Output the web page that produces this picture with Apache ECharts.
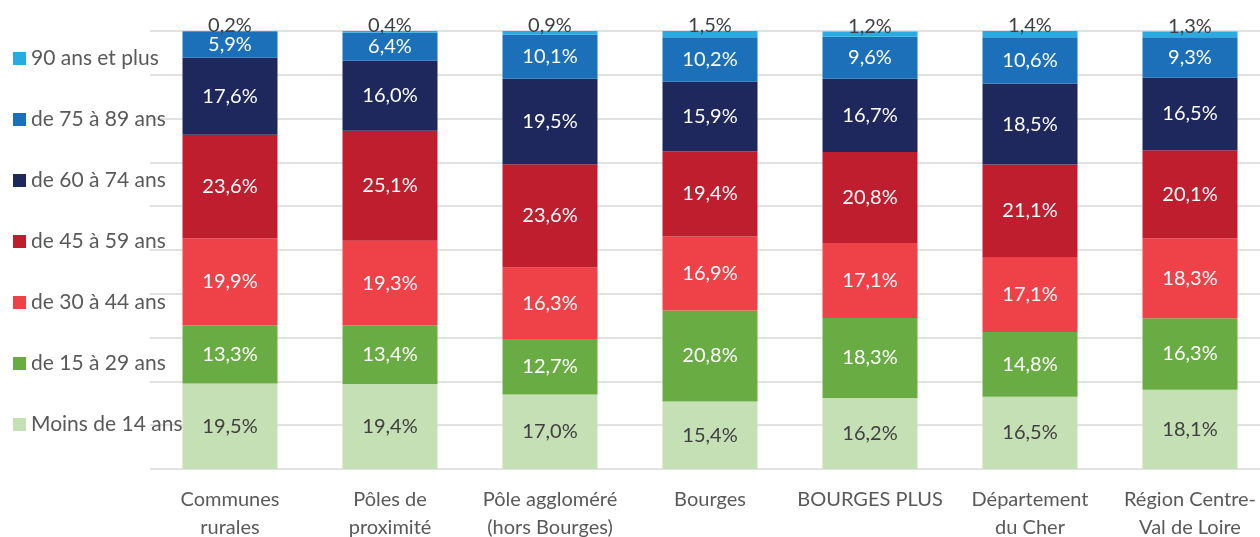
<!DOCTYPE html>
<html>
<head>
<meta charset="utf-8">
<script src="https://cdn.jsdelivr.net/npm/echarts@6/dist/echarts.min.js"></script>
<style>
  html, body { margin: 0; padding: 0; background: #fff; }
  #chart { width: 1260px; height: 537px; }
</style>
</head>
<body>
<div id="chart"></div>
<script>
// catégories (axe x)
const categories = [
  "Communes\nrurales",
  "Pôles de\nproximité",
  "Pôle aggloméré\n(hors Bourges)",
  "Bourges",
  "BOURGES PLUS",
  "Département\ndu Cher",
  "Région Centre-\nVal de Loire"
];

// tranches d'âge, du bas vers le haut de la pile
const ageGroups = [
  "Moins de 14 ans",
  "de 15 à 29 ans",
  "de 30 à 44 ans",
  "de 45 à 59 ans",
  "de 60 à 74 ans",
  "de 75 à 89 ans",
  "90 ans et plus"
];

const moins14 = [19.5, 19.4, 17.0, 15.4, 16.2, 16.5, 18.1];
const age15_29 = [13.3, 13.4, 12.7, 20.8, 18.3, 14.8, 16.3];
const age30_44 = [19.9, 19.3, 16.3, 16.9, 17.1, 17.1, 18.3];
const age45_59 = [23.6, 25.1, 23.6, 19.4, 20.8, 21.1, 20.1];
const age60_74 = [17.6, 16.0, 19.5, 15.9, 16.7, 18.5, 16.5];
const age75_89 = [5.9, 6.4, 10.1, 10.2, 9.6, 10.6, 9.3];
const age90 = [0.2, 0.4, 0.9, 1.5, 1.2, 1.4, 1.3];

const seriesValues = [moins14, age15_29, age30_44, age45_59, age60_74, age75_89, age90];
const colors = ["#c5e0b4", "#6aac44", "#ef4148", "#be1e2d", "#1f285c", "#1b70b9", "#29abe2"];

const FONT = "Lato";
const FS = 20;

function fmt(p) {
  return p.value.toFixed(1).replace(".", ",") + "%";
}

const series = ageGroups.map((name, i) => {
  let label = {
    show: true,
    position: "inside",
    color: "#fff",
    fontSize: FS,
    fontFamily: FONT,
    formatter: fmt
  };
  if (i === 0) label.color = "#404040";
  if (i === ageGroups.length - 1) {
    label.position = "top";
    label.distance = -5;
    label.color = "#404040";
  }
  return {
    name: name,
    type: "bar",
    stack: "total",
    barWidth: 95,
    data: seriesValues[i],
    itemStyle: { color: colors[i] },
    label: label
  };
});

const myChart = echarts.init(document.getElementById("chart"));
myChart.setOption({
  animation: false,
  grid: {
    left: 150,
    right: -10,
    top: 31,
    bottom: 68,
    outerBoundsMode: "none"
  },
  legend: {
    orient: "vertical",
    left: 13,
    top: 48,
    padding: 0,
    itemWidth: 13,
    itemHeight: 13,
    itemGap: 40,
    icon: "rect",
    data: ageGroups.slice().reverse(),
    textStyle: {
      color: "#595959",
      fontSize: 21,
      fontFamily: FONT,
      lineHeight: 20
    }
  },
  xAxis: {
    type: "category",
    data: categories,
    axisLine: { show: false },
    axisTick: { show: false },
    axisLabel: {
      color: "#595959",
      fontSize: FS,
      fontFamily: FONT,
      lineHeight: 28,
      margin: 17,
      interval: 0
    }
  },
  yAxis: {
    type: "value",
    min: 0,
    max: 100,
    interval: 10,
    axisLabel: { show: false },
    axisLine: { show: false },
    axisTick: { show: false },
    splitLine: { lineStyle: { color: "#d9d9d9", width: 1.5 } }
  },
  series: series
});
</script>
</body>
</html>
